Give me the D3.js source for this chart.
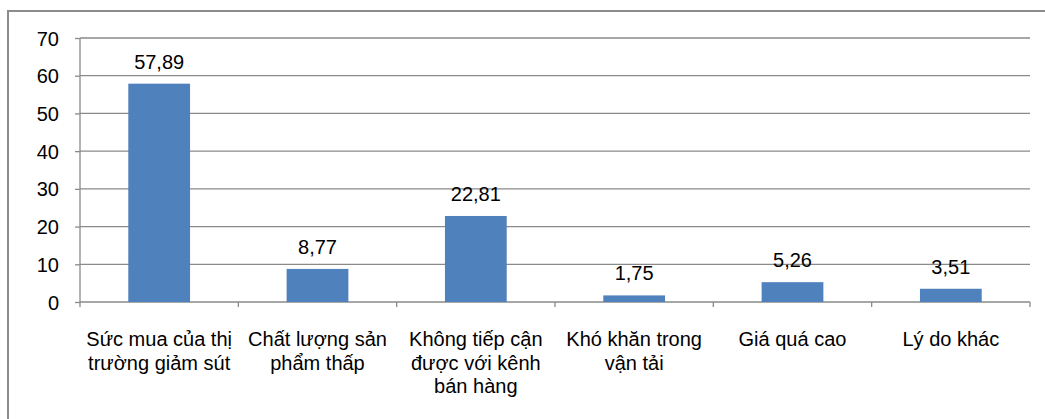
<!DOCTYPE html>
<html>
<head>
<meta charset="utf-8">
<script src="https://cdn.jsdelivr.net/npm/d3@7"></script>
<style>
  body { margin: 0; background: #fff; }
  text { font-family: "Liberation Sans", Arial, sans-serif; fill: #000; }
</style>
</head>
<body>
<svg id="svg0" width="1045" height="419"></svg>
<script>
// data
let categories = [
    "Sức mua của thị\ntrường giảm sút",
    "Chất lượng sản\nphẩm thấp",
    "Không tiếp cận\nđược với kênh\nbán hàng",
    "Khó khăn trong\nvận tải",
    "Giá quá cao",
    "Lý do khác"
];
let values = [57.89, 8.77, 22.81, 1.75, 5.26, 3.51];
let valueLabels = ["57,89", "8,77", "22,81", "1,75", "5,26", "3,51"];
let yTicks = [0, 10, 20, 30, 40, 50, 60, 70];

let margin = {top: 38, left: 80};
let width = 950, height = 264;
let fontSize = '20px';
let svg = d3.select('#svg0');

// outer border (runs off the right/bottom edge)
svg.append('rect').attr('x', 8).attr('y', 11).attr('width', 1060).attr('height', 430)
    .style('fill', 'none').style('stroke', '#8c8c8c').style('stroke-width', 2);

let g = svg.append('g').attr('transform', 'translate(' + margin.left + ',' + margin.top + ')');

let xScale = d3.scaleBand().domain(d3.range(categories.length)).range([0, width])
    .paddingInner(0.61).paddingOuter(0.305);
let yScale = d3.scaleLinear().domain([0, 70]).range([height, 0]);

// gridlines
g.selectAll('.grid').data(yTicks.slice(1)).enter().append('line')
    .attr('class', 'grid')
    .attr('x1', 0).attr('x2', width)
    .attr('y1', d=>yScale(d)).attr('y2', d=>yScale(d))
    .style('stroke', '#8a8a8a').style('stroke-width', 1.3);

// y axis
let yAxis = g.append('g').call(d3.axisLeft(yScale).tickValues(yTicks).tickSize(5).tickPadding(16).tickFormat(d3.format('d')));
yAxis.select('.domain').attr('d', 'M0,0V' + height).style('stroke', '#8a8a8a').style('stroke-width', 1.3);
yAxis.selectAll('line').style('stroke', '#8a8a8a').style('stroke-width', 1.3);
yAxis.selectAll('text').style('font-size', fontSize).style('font-family', '"Liberation Sans", Arial, sans-serif').attr('dy', '0.35em');

// x axis with ticks between categories
let step = xScale.step();
let xg = g.append('g').attr('transform', 'translate(0,' + height + ')');
xg.append('line').attr('x1', 0).attr('x2', width).attr('y1', 0).attr('y2', 0)
    .style('stroke', '#8a8a8a').style('stroke-width', 1.3);
xg.selectAll('.xtick').data(d3.range(categories.length + 1)).enter().append('line')
    .attr('class', 'xtick')
    .attr('x1', i=>i * step).attr('x2', i=>i * step)
    .attr('y1', 0).attr('y2', 5)
    .style('stroke', '#8a8a8a').style('stroke-width', 1.3);

// category labels
categories.forEach((c, i)=>{
    let t = xg.append('text')
        .attr('x', xScale(i) + xScale.bandwidth() / 2)
        .attr('y', 44)
        .style('text-anchor', 'middle').style('font-size', fontSize);
    c.split('\n').forEach((line, j)=>{
        t.append('tspan').attr('x', xScale(i) + xScale.bandwidth() / 2)
            .attr('dy', j === 0 ? 0 : 23.5).text(line);
    });
});

// bars
g.selectAll('.bar').data(values).enter().append('rect')
    .attr('class', 'bar')
    .attr('x', (d, i)=>xScale(i))
    .attr('y', d=>yScale(d))
    .attr('width', xScale.bandwidth())
    .attr('height', d=>height - yScale(d))
    .style('fill', '#4f81bd');

// value labels
g.selectAll('.vtext').data(values).enter().append('text')
    .attr('class', 'vtext')
    .attr('x', (d, i)=>xScale(i) + xScale.bandwidth() / 2)
    .attr('y', d=>yScale(d) - 15)
    .text((d, i)=>valueLabels[i])
    .style('text-anchor', 'middle').style('font-size', fontSize);
</script>
</body>
</html>
